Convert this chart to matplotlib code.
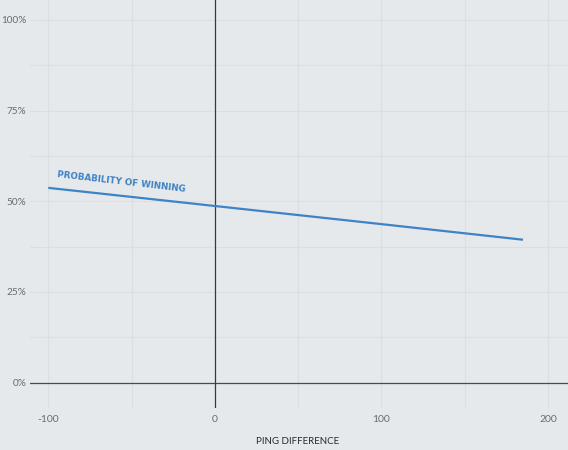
import numpy as np
import matplotlib.pyplot as plt

ping_diff = [-100, 0, 100, 185]
win_prob = [53.7, 48.7, 43.7, 39.4]

x_ticks = [-100, 0, 100, 200]
y_ticks = [0, 25, 50, 75, 100]
x_grid = np.arange(-100, 201, 50)
y_grid = np.arange(0, 101, 12.5)

bg = '#e6e9eb'
grid_col = '#dcdfe2'
line_col = '#3d83c6'

plt.rcParams['font.family'] = ['Lato', 'DejaVu Sans']

fig = plt.figure(figsize=(5.68, 4.5), dpi=100, facecolor=bg)
ax = fig.add_axes([30 / 568, 42 / 450, 538 / 568, 408 / 450])
ax.set_facecolor(bg)

ax.set_xlim(-111, 212)
ax.set_ylim(-7, 105.5)

for gx in x_grid:
    ax.axvline(gx, color=grid_col, linewidth=0.8, zorder=0)
for gy in y_grid:
    ax.axhline(gy, color=grid_col, linewidth=0.8, zorder=0)

for side in ax.spines.values():
    side.set_visible(False)

ax.axhline(0, color='#4a4a4a', linewidth=0.9)
ax.axvline(0, color='#3a3a3a', linewidth=0.9)

ax.plot(ping_diff, win_prob, color=line_col, linewidth=1.6, solid_capstyle='butt')

ax.text(-95, 56.2, 'PROBABILITY OF WINNING', color=line_col, fontsize=6.3, fontweight='bold',
        family='DejaVu Sans', rotation=-6.6, rotation_mode='anchor', ha='left', va='bottom')

ax.set_xticks(x_ticks)
ax.set_xticklabels([f'{v}' for v in x_ticks])
ax.set_yticks(y_ticks)
ax.set_yticklabels([f'{v}%' for v in y_ticks])
ax.tick_params(length=0, labelcolor='#6b6b6b', labelsize=7.5, pad=5)
ax.tick_params(axis='y', pad=2.5, labelsize=7.2)

fig.text(298 / 568, 0.019, 'PING DIFFERENCE', ha='center', va='center', fontsize=7, color='#2a2a2a')

fig.savefig('out.png', facecolor=bg)
